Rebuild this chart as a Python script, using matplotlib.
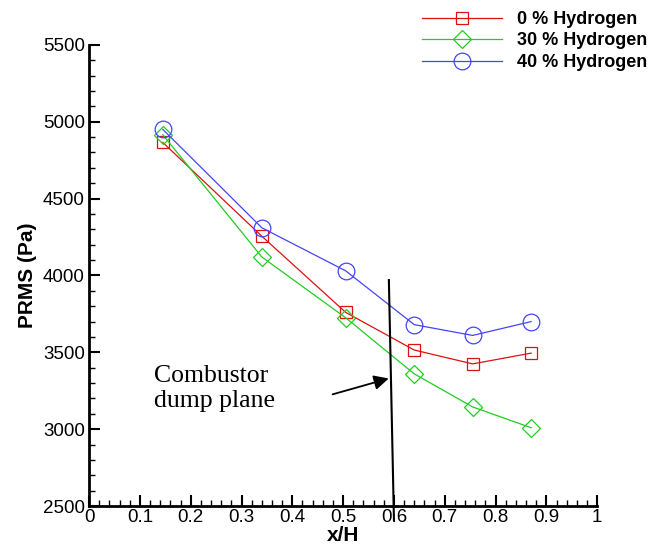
import matplotlib.pyplot as plt
from matplotlib.ticker import MultipleLocator

# data
x_over_h = [0.145, 0.34, 0.505, 0.64, 0.755, 0.87]
prms_0 = [4865, 4255, 3760, 3515, 3425, 3495]
prms_30 = [4915, 4120, 3725, 3360, 3145, 3010]
prms_40 = [4950, 4310, 4030, 3680, 3610, 3700]
labels = ["0 % Hydrogen", "30 % Hydrogen", "40 % Hydrogen"]

plt.rcParams['font.family'] = ['Liberation Sans', 'DejaVu Sans']

fig = plt.figure(figsize=(6.65, 5.46), dpi=100)
ax = fig.add_axes([0.134, 0.073, 0.764, 0.845])

h1, = ax.plot(x_over_h, prms_0, color='#dd1111', lw=0.9, marker='s', ms=9,
              mfc='none', mec='#dd1111', mew=0.9)
h2, = ax.plot(x_over_h, prms_30, color='#22cc22', lw=0.9, marker='D', ms=9,
              mfc='none', mec='#22cc22', mew=0.9)
h3, = ax.plot(x_over_h, prms_40, color='#4444ff', lw=0.9, marker='o', ms=12,
              mfc='none', mec='#4444ff', mew=0.9)

ax.set_xlim(0, 1)
ax.set_ylim(2500, 5500)
ax.xaxis.set_major_locator(MultipleLocator(0.1))
ax.xaxis.set_minor_locator(MultipleLocator(0.02))
ax.yaxis.set_major_locator(MultipleLocator(500))
ax.yaxis.set_minor_locator(MultipleLocator(100))
ax.xaxis.set_major_formatter(plt.FuncFormatter(lambda v, p: f"{v:g}"))
ax.tick_params(which='major', direction='in', length=8, width=1.5, labelsize=13.5)
ax.tick_params(which='minor', direction='in', length=4, width=1)
ax.tick_params(axis='x', pad=2)
ax.tick_params(axis='y', pad=3)
for s in ['top', 'right']:
    ax.spines[s].set_visible(False)
for s in ['left', 'bottom']:
    ax.spines[s].set_linewidth(2)

ax.set_xlabel("x/H", fontsize=15, fontweight='bold', labelpad=0)
ax.set_ylabel("PRMS (Pa)", fontsize=15, fontweight='bold', labelpad=4)

# combustor dump plane marker
ax.plot([0.59, 0.6], [3970, 2410], color='black', lw=1.5, clip_on=False)
ax.annotate("", xy=(0.595, 3335), xytext=(0.474, 3222),
            arrowprops=dict(arrowstyle='-|>', color='black', lw=1.3,
                            mutation_scale=22))
ax.text(0.128, 3265, "Combustor\ndump plane", fontsize=18.5,
        family=['Liberation Serif', 'DejaVu Serif'], va='center', ha='left',
        linespacing=1.2)

fig.legend([h1, h2, h3], labels, loc='upper right',
           bbox_to_anchor=(0.99, 1.0), frameon=False,
           prop={'weight': 'bold', 'size': 13}, handlelength=4.4,
           handletextpad=0.85, labelspacing=0.25, borderaxespad=0.2)

fig.savefig("out.png", dpi=100)
